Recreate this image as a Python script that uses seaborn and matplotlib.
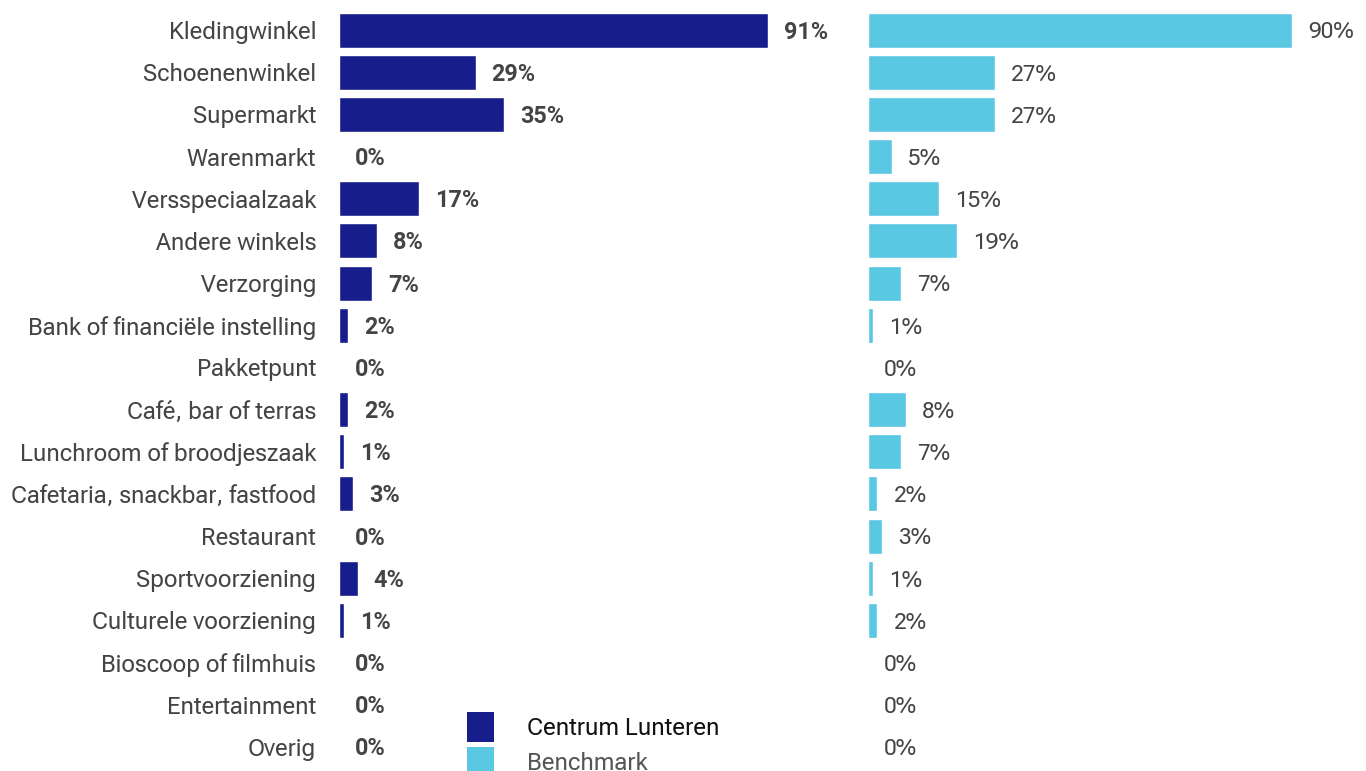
import matplotlib
matplotlib.use("Agg")
import matplotlib.pyplot as plt
import seaborn as sns
import pandas as pd
from matplotlib.patches import Patch

categories = ["Kledingwinkel", "Schoenenwinkel", "Supermarkt", "Warenmarkt",
              "Versspeciaalzaak", "Andere winkels", "Verzorging",
              "Bank of financiële instelling", "Pakketpunt", "Café, bar of terras",
              "Lunchroom of broodjeszaak", "Cafetaria, snackbar, fastfood",
              "Restaurant", "Sportvoorziening", "Culturele voorziening",
              "Bioscoop of filmhuis", "Entertainment", "Overig"]
lunteren = [91, 29, 35, 0, 17, 8, 7, 2, 0, 2, 1, 3, 0, 4, 1, 0, 0, 0]
benchmark = [90, 27, 27, 5, 15, 19, 7, 1, 0, 8, 7, 2, 3, 1, 2, 0, 0, 0]
series_names = ["Centrum Lunteren", "Benchmark"]

NAVY = "#171e8c"
LIGHT = "#5bc8e3"

sns.set_theme(style="white")
REG = ["Roboto Flex", "DejaVu Sans"]
BOLD = ["Roboto", "DejaVu Sans"]
plt.rcParams["font.family"] = REG

df = pd.DataFrame({"cat": categories, "l": lunteren, "b": benchmark})

W, H = 1366, 771
fig = plt.figure(figsize=(W / 100, H / 100), dpi=100)
scale = 4.71  # px per percent
ax_w = 100 * scale / W
bottom = 1 - 768 / H
height = (768 - 9) / H
ax1 = fig.add_axes([339 / W, bottom, ax_w, height])
ax2 = fig.add_axes([868 / W, bottom, ax_w, height])

sns.barplot(data=df, x="l", y="cat", color=NAVY, orient="h", width=0.83,
            ax=ax1, saturation=1)
sns.barplot(data=df, x="b", y="cat", color=LIGHT, orient="h", width=0.83,
            ax=ax2, saturation=1)

for ax, vals, bold in [(ax1, lunteren, True), (ax2, benchmark, False)]:
    ax.set_xlim(0, 100)
    ax.set_ylim(len(categories) - 0.5, -0.5)
    ax.set_xlabel("")
    ax.set_ylabel("")
    ax.set_xticks([])
    for s in ax.spines.values():
        s.set_visible(False)
    for i, v in enumerate(vals):
        ax.annotate(f"{v}%", xy=(v, i), xytext=(16, -2), textcoords="offset pixels",
                    va="center", ha="left", fontsize=16.8 if bold else 16.2,
                    family=BOLD if bold else REG,
                    fontweight="bold" if bold else "normal",
                    color="#444444", annotation_clip=False)

ax1.tick_params(axis="y", length=0, pad=16.5, labelsize=17.2, labelcolor="#444444")
ax2.set_yticks([])

handles = [Patch(facecolor=NAVY, edgecolor="none"), Patch(facecolor=LIGHT, edgecolor="none")]
lfs = 17.3
leg = fig.legend(handles, series_names, loc="upper left",
                 bbox_to_anchor=(467 / W, 1 - 712 / H), frameon=False,
                 fontsize=lfs, handlelength=1.12, handleheight=1.55,
                 handletextpad=1.38, labelspacing=0.2, borderaxespad=0,
                 borderpad=0)
texts = leg.get_texts()
texts[0].set_color("#111111")
texts[1].set_color("#555555")

fig.savefig("out.png", dpi=100)
